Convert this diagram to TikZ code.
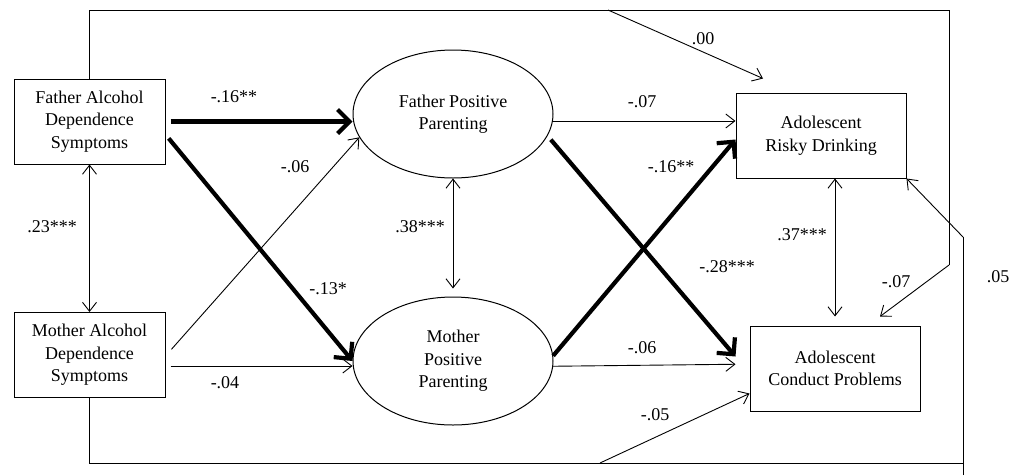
\documentclass[tikz,border=0pt]{standalone}
\usepackage{fontspec}
\setmainfont{Liberation Serif}
\usetikzlibrary{shapes.geometric,arrows.meta,positioning}

\begin{document}
\begin{tikzpicture}[x=1pt,y=-1pt,
  font=\fontsize{18}{22.5}\selectfont,
  box/.style={draw,line width=1pt,minimum width=151pt,minimum height=85pt,align=center,inner sep=2pt},
  latent/.style={ellipse,draw,line width=1pt,minimum width=200pt,minimum height=128pt,align=center,inner sep=0pt},
  path/.style={line width=0.9pt,-{Straight Barb[length=9pt,width=14pt]}},
  strong/.style={line width=4.2pt,-{Straight Barb[length=12pt,width=24pt,line width=4.2pt]}},
  corr/.style={line width=0.9pt,{Straight Barb[length=9pt,width=14pt]}-{Straight Barb[length=9pt,width=14pt]}},
  coef/.style={inner sep=1pt}]
\useasboundingbox (0,0) rectangle (1017,475);

% Parents
\node[box] (fad) at (89.5,121.5) {Father Alcohol\\Dependence\\Symptoms};
\node[box] (mad) at (89.5,355) {Mother Alcohol\\Dependence\\Symptoms};

% Parenting
\node[latent] (fpp) at (453,114) {Father Positive\\Parenting};
\node[latent] (mpp) at (453,361) {Mother\\Positive\\Parenting};

% Outcomes
\node[box,minimum width=170pt] (rd) at (821,135.5) {Adolescent\\Risky Drinking};
\node[box,minimum width=170pt] (cp) at (835,368.5) {Adolescent\\Conduct Problems};

% Routing points
\coordinate (tr) at (949,10);
\coordinate (tv) at (949,265);
\coordinate (tb) at (608,10);
\coordinate (br) at (963,463);
\coordinate (bv) at (963,237);
\coordinate (bb) at (600,463);
\coordinate (bend) at (963,475);

% Parents to parenting
\draw[strong,shorten <=5pt] (fad.east) -- (fpp.west |- fad.east);
\draw[strong,shorten <=5pt] ([yshift=-13pt]fad.east) -- (mpp.west);
\draw[path,shorten <=9pt] ([yshift=-1pt]mad.east) -- (fpp.194);
\draw[path,shorten <=5pt] ([yshift=-11pt]mad.east) -- (mpp.west |- 0,366);
\draw[corr] (fad.south) -- (mad.north);
\draw[corr,shorten >=8pt] (fpp.south) -- (mpp.north);

% Parenting to outcomes
\draw[path] (fpp.-4) -- (rd.west |- fpp.-4);
\draw[strong,shorten <=5pt] (fpp.-13) -- ([xshift=-14pt,yshift=12pt]cp.west);
\draw[strong] (mpp.3) -- ([yshift=-4pt]rd.west);
\draw[path] (mpp.-3) -- ([xshift=-14pt,yshift=2pt]cp.west |- mpp.-3);
\draw[corr,shorten >=9pt] (cp.north |- rd.south) -- (cp.north);

% Direct paths around the frame
\draw[line width=0.9pt] (fad.north) |- (tr) -- (tv);
\draw[path] (tv) -- ([xshift=45pt,yshift=9pt]cp.north);
\draw[path] (tb) -- ([xshift=-58pt,yshift=14pt]rd.north);
\draw[line width=0.9pt] (mad.south) |- (br);
\draw[line width=0.9pt] (bend) -- (bv);
\draw[path] (bv) -- (rd.south east);
\draw[path] (bb) -- ([yshift=-25pt]cp.west);

% Coefficients
\node[coef] (lFaFp) at (234,97) {-.16**};
\node[coef] (lMaFp) at (295,167) {-.06};
\node[coef] (lFaMa) at (52,227) {.23***};
\node[coef] (lFaMp) at (328,289) {-.13*};
\node[coef] (lMaMp) at (225,383) {-.04};
\node[coef] (lFpMp) at (420,227) {.38***};
\node[coef] (lFpRd) at (642,102) {-.07};
\node[coef] (lMpRd) at (671,167) {-.16**};
\node[coef] (lFpCp) at (727,267) {-.28***};
\node[coef] (lMpCp) at (642,348) {-.06};
\node[coef] (lMaCp) at (655,415) {-.05};
\node[coef] (lRdCp) at (802,235) {.37***};
\node[coef] (lFaCp) at (896,282) {-.07};
\node[coef] (lMaRd) at (998,277) {.05};
\node[coef] (lFaRd) at (703,39) {.00};
\end{tikzpicture}
\end{document}
